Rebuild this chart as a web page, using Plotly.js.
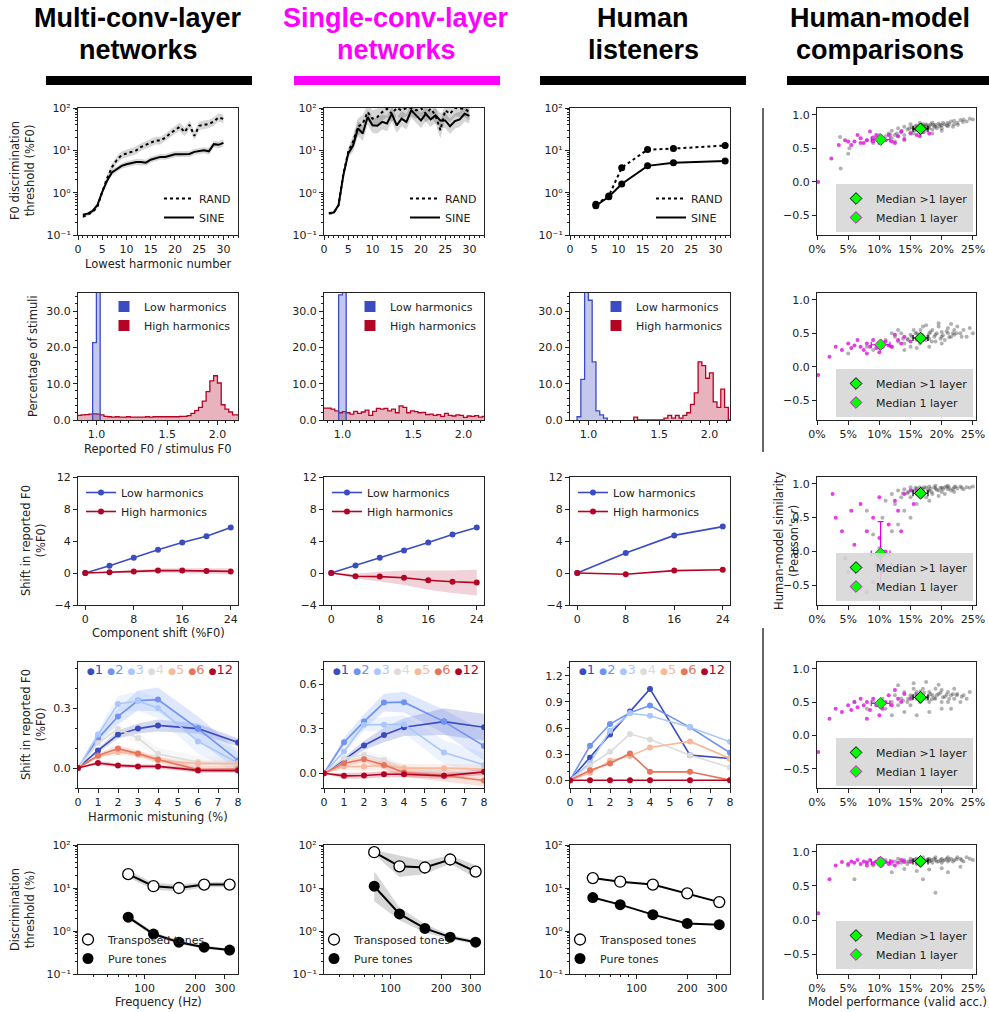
<!DOCTYPE html>
<html><head><meta charset="utf-8">
<script src="https://cdn.plot.ly/plotly-3.0.1.min.js"></script>
<style>body{margin:0;background:#fff}#chart{width:989px;height:1012px}</style>
</head><body><div id="chart"></div><script>
// ---------------- DATA ----------------
const headers = [["Multi-conv-layer","networks"],["Single-conv-layer","networks"],["Human","listeners"],["Human-model","comparisons"]];
// Row 1: F0 discrimination vs lowest harmonic number
const harm = [1,2,3,4,5,6,7,8,9,10,11,12,13,14,15,16,17,18,19,20,21,22,23,24,25,26,27,28,29,30];
const mcSine = [0.30,0.32,0.37,0.51,1.05,1.9,3.0,3.6,4.3,4.7,5.0,5.3,5.3,5.1,6.0,6.4,7.0,7.0,7.4,8.1,8.1,8.2,8.2,9.2,9.7,10.0,9.5,14,13.5,15];
const mcRand = [0.27,0.30,0.35,0.46,1.05,2.2,4.0,5.9,7.7,8.5,9.2,10,12,13.5,15,17,17,20,25,30,36,27,40,22,38,40,42,48,60,55];
const mcSineErr = [0.03,0.03,0.03,0.04,0.05,0.06,0.07,0.07,0.07,0.07,0.07,0.07,0.07,0.07,0.07,0.07,0.07,0.07,0.07,0.07,0.07,0.07,0.07,0.07,0.07,0.07,0.08,0.08,0.08,0.08];
const mcRandErr = [0.03,0.03,0.03,0.04,0.05,0.07,0.08,0.09,0.09,0.09,0.09,0.09,0.09,0.09,0.09,0.09,0.09,0.09,0.09,0.09,0.1,0.1,0.1,0.1,0.1,0.1,0.1,0.1,0.1,0.1];
const scSine = [0.33,0.34,0.51,2.6,8.4,13,33,25,61,39,38,47,43,73,39,56,47,88,67,51,73,54,67,51,51,37,49,54,73,65];
const scRand = [0.32,0.33,0.51,2.8,9.2,16,36,43,80,56,61,80,96,73,100,88,100,100,88,100,73,96,67,30,88,73,100,100,96,80];
const scSineErr = [0.02,0.02,0.03,0.08,0.1,0.15,0.18,0.18,0.18,0.18,0.18,0.18,0.18,0.18,0.18,0.18,0.18,0.18,0.18,0.18,0.18,0.18,0.18,0.18,0.18,0.18,0.18,0.18,0.18,0.18];
const scRandErr = [0.02,0.02,0.03,0.08,0.1,0.15,0.2,0.2,0.2,0.2,0.2,0.2,0.2,0.2,0.2,0.2,0.2,0.2,0.2,0.2,0.2,0.2,0.2,0.2,0.2,0.2,0.2,0.2,0.2,0.2];
const hlHarm = [5.33,8,10.67,16,21.33,32];
const hlSine = [0.49,0.8,1.6,4.3,5.1,5.6];
const hlRand = [0.53,0.83,3.9,10.4,11,13];
const logTickVals = [0.1,1,10,100];
const logTickText = ['10⁻¹','10⁰','10¹','10²'];
// Row 2: histograms, bins of 1/32 octave, bin k spans [2^(k/32), 2^((k+1)/32)]
const mcLowK0 = -1, mcLow = [21.3,75];
const mcHighK0 = -6, mcHigh = [1.3,1.3,1.4,1.5,1.6,1.7,1.6,1.4,1.0,0.9,0.8,0.9,0.8,0.8,0.9,0.8,0.8,0.8,0.8,0.9,0.8,0.9,0.9,0.9,0.9,0.9,0.9,0.9,1.0,1.0,1.2,1.8,2.6,3.5,5.2,7.8,10.8,12.2,10.2,4.2,3.0,2.2,1.4,1.4];
const scLowK0 = -1, scLow = [34.5,60];
const scHighK0 = -6, scHigh = [3.3,3.3,3.3,3.0,2.5,2.0,2.3,2.0,1.6,2.4,1.8,2.2,2.7,1.3,2.4,3.2,3.0,3.2,2.5,3.0,2.0,3.9,3.5,2.0,2.5,2.3,2.0,2.1,1.5,1.6,1.3,1.5,1.0,1.8,1.3,1.1,1.4,1.3,0.7,1.1,1.0,1.2,0.8,1.0];
const hlLowK0 = -3, hlLow = [0.9,11.2,37,33,16,2.5,1.4,0.5];
const hlHighK0 = 12, hlHigh = [0.8,0,0,0,0,0,0,0,0.5,1.3,0.5,1.3,0.5,1.3,2.0,4.3,7.5,16,15,11.5,13,5,3.5,8.5,3.5,0];
const histTickVals = [1,1.5,2], histTickText = ['1.0','1.5','2.0'];
// Row 3: frequency-shifted complexes
const shiftX = [0,4,8,12,16,20,24];
const mcShiftLow = [0,0.9,1.9,2.9,3.8,4.6,5.7];
const mcShiftHigh = [0,0.1,0.2,0.3,0.3,0.25,0.2];
const mcShiftHighErr = [0,0.1,0.2,0.25,0.3,0.35,0.4];
const scShiftLow = [0,0.95,1.9,2.8,3.8,4.8,5.7];
const scShiftHigh = [0,-0.4,-0.45,-0.6,-0.9,-1.1,-1.2];
const scShiftHighErr = [0,0.3,0.6,0.9,1.2,1.4,1.6];
const hlShiftX = [0,8,16,24];
const hlShiftLow = [0,2.5,4.7,5.8];
const hlShiftHigh = [0,-0.15,0.3,0.4];
// Row 4: mistuned harmonics
const mistX = [0,1,2,3,4,6,8];
const mistLabels = ['1','2','3','4','5','6','12'];
const mistColors = ['#3b4cc0','#6f92f3','#aac7fd','#dddcdc','#f7b89c','#e7745b','#b40426'];
const mcMist = [
 [0,0.088,0.167,0.197,0.213,0.197,0.128],
 [0,0.147,0.258,0.337,0.342,0.197,0.038],
 [0,0.167,0.32,0.335,0.30,0.133,0.025],
 [0,0.125,0.195,0.15,0.07,0.03,0.017],
 [0,0.058,0.08,0.067,0.038,0.022,0.022],
 [0,0.062,0.097,0.072,0.042,-0.008,-0.005],
 [0,0.025,0.013,0.008,0.008,-0.012,-0.013]];
const mcMistErr = [
 [0,0.01,0.02,0.025,0.03,0.025,0.02],
 [0,0.02,0.04,0.05,0.06,0.06,0.05],
 [0,0.02,0.04,0.05,0.05,0.06,0.05],
 [0,0.01,0.02,0.03,0.03,0.03,0.03],
 [0,0.01,0.015,0.015,0.015,0.015,0.015],
 [0,0.01,0.015,0.015,0.015,0.015,0.015],
 [0,0.01,0.01,0.01,0.01,0.01,0.01]];
const scMist = [
 [0,0.09,0.187,0.258,0.31,0.348,0.31],
 [0,0.209,0.348,0.476,0.479,0.348,0.184],
 [0,0.146,0.326,0.326,0.33,0.14,0.056],
 [0,0.10,0.124,0.09,0.034,0.011,0.01],
 [0,0.045,0.045,0.052,0.034,0.034,0.027],
 [0,0.067,0.094,0.056,0.004,-0.016,-0.049],
 [0,-0.018,-0.016,-0.007,-0.007,-0.018,0.009]];
const scMistErr = [
 [0,0.02,0.03,0.05,0.06,0.09,0.09],
 [0,0.03,0.05,0.06,0.07,0.08,0.1],
 [0,0.02,0.04,0.05,0.06,0.08,0.08],
 [0,0.02,0.03,0.03,0.02,0.02,0.02],
 [0,0.02,0.03,0.03,0.03,0.03,0.03],
 [0,0.02,0.02,0.03,0.03,0.04,0.04],
 [0,0.02,0.02,0.02,0.02,0.02,0.02]];
const hlMist = [
 [0,0.258,0.527,0.789,1.05,0.288,0.25],
 [0,0.396,0.646,0.777,0.858,0.608,0.315],
 [0,0.2,0.569,0.77,0.742,0.608,0.442],
 [0,0.173,0.327,0.531,0.469,0.288,0.146],
 [0,0.085,0.223,0.277,0.377,0.446,0.25],
 [0,0.115,0.192,0.308,0.096,0.096,0],
 [0,0,0,0,0,0,0]];
// Row 5: transposed tones vs pure tones
const freqModel = [80,113,160,226,320];
const mcTrans = [21,11,10,12,12];
const mcPure = [2.1,0.85,0.55,0.42,0.36];
const mcTransErr = [0.08,0.08,0.08,0.06,0.06];
const mcPureErr = [0.05,0.05,0.04,0.04,0.03];
const scTrans = [68,32,30,46,24];
const scPure = [11,2.5,1.15,0.72,0.55];
const scTransErr = [0.05,0.25,0.15,0.1,0.15];
const scPureErr = [0.35,0.15,0.1,0.05,0.05];
const freqHuman = [55,80,125,200,310];
const hlTrans = [17,14,12,7.5,4.7];
const hlPure = [6,4.1,2.4,1.5,1.4];
// Column 4: human-model similarity (x: model performance %, y: Pearson r)
const cmpXTicks = [0,5,10,15,20,25], cmpXText = ['0%','5%','10%','15%','20%','25%'];
const cmpYTicks = [-0.5,0,0.5,1], cmpYText = ['−0.5','0.0','0.5','1.0'];
const cmpGray = [
 [[3.7,0.67],[3.8,0.2],[5,0.42],[5.2,0.5],[8,0.62],[9,0.58],[9.5,0.66],[10,0.7],[10.5,0.62],[11,0.68],[11.5,0.72],[12,0.65],[12,0.76],[12.5,0.7],[13,0.8],[13,0.68],[13.5,0.74],[14,0.82],[14,0.7],[14.5,0.78],[15,0.86],[15,0.74],[15.5,0.8],[15.5,0.72],[16,0.84],[16,0.77],[16.5,0.88],[16.5,0.75],[17,0.82],[17,0.79],[17.5,0.86],[17.5,0.76],[18,0.84],[18,0.8],[18.5,0.88],[18.5,0.78],[19,0.85],[19,0.82],[19.5,0.87],[20,0.84],[20,0.8],[20.5,0.86],[21,0.88],[21,0.83],[21.5,0.9],[22,0.86],[22,0.91],[22.5,0.88],[23,0.92],[23.5,0.93],[24,0.9],[24.5,0.94],[25,0.93],[20,0.76],[18.5,0.72],[14,0.62],[12.5,0.6],[16.5,0.82],[17.5,0.84],[17,0.86]],
 [[5,0.2],[8,0.3],[9,0.25],[10,0.35],[10.5,0.3],[11,0.4],[12,0.3],[12.5,0.45],[13,0.38],[13.5,0.5],[14,0.35],[14.5,0.42],[15,0.48],[15,0.3],[15.5,0.55],[16,0.4],[16,0.5],[16.5,0.35],[17,0.45],[17,0.6],[17.5,0.4],[18,0.5],[18,0.42],[18.5,0.55],[19,0.38],[19,0.48],[19.5,0.6],[20,0.45],[20,0.52],[20.5,0.4],[21,0.5],[21,0.58],[21.5,0.45],[22,0.55],[22,0.48],[22.5,0.6],[23,0.5],[23.5,0.55],[24,0.45],[24.5,0.58],[25,0.5],[14,0.25],[16,0.28],[18,0.3],[20,0.35],[12,0.5],[13,0.55],[17.5,0.62],[19.5,0.65],[21.5,0.64]],
 [[8,0.6],[9,0.25],[10,0.05],[10.5,0.5],[11,0.75],[12,0.85],[12.5,0.7],[13,0.9],[13.5,0.8],[14,0.92],[14.5,0.86],[15,0.95],[15,0.8],[15.5,0.9],[16,0.93],[16,0.85],[16.5,0.95],[17,0.88],[17,0.92],[17.5,0.94],[18,0.9],[18,0.96],[18.5,0.85],[19,0.93],[19,0.97],[19.5,0.9],[20,0.94],[20,0.88],[20.5,0.95],[21,0.92],[21,0.97],[21.5,0.9],[22,0.95],[22.5,0.93],[23,0.96],[23.5,0.92],[24,0.95],[24.5,0.94],[25,0.96],[14,0.6],[16,0.7],[18,0.75],[13,0.4],[12,0.3],[15,0.5],[17.5,0.8],[19.5,0.82],[20.5,0.85],[22,0.88]],
 [[6,0.5],[8,0.4],[9,0.5],[10,0.45],[10.5,0.55],[11,0.4],[12,0.5],[12.5,0.6],[13,0.45],[13.5,0.55],[14,0.65],[14.5,0.5],[15,0.6],[15,0.45],[15.5,0.7],[16,0.55],[16,0.65],[16.5,0.5],[17,0.6],[17,0.7],[17.5,0.55],[18,0.65],[18,0.5],[18.5,0.6],[19,0.7],[19,0.55],[19.5,0.62],[20,0.5],[20,0.68],[20.5,0.58],[21,0.65],[21,0.5],[21.5,0.6],[22,0.55],[22,0.7],[22.5,0.62],[23,0.5],[23.5,0.6],[24,0.55],[24.5,0.65],[14,0.35],[16,0.3],[18,0.35],[20,0.4],[13,0.75],[15.5,0.78],[17.5,0.8],[19.5,0.76],[12,0.3],[21.5,0.4]],
 [[5,0.8],[6,0.6],[8,0.85],[9,0.8],[10,0.85],[10.5,0.8],[11,0.88],[12,0.82],[12.5,0.86],[13,0.9],[13.5,0.84],[14,0.88],[14.5,0.82],[15,0.9],[15,0.85],[15.5,0.88],[16,0.82],[16,0.9],[16.5,0.86],[17,0.92],[17,0.84],[17.5,0.88],[18,0.86],[18,0.9],[18.5,0.84],[19,0.88],[19,0.92],[19.5,0.86],[20,0.9],[20,0.84],[20.5,0.88],[21,0.92],[21,0.86],[21.5,0.9],[22,0.88],[22.5,0.92],[23,0.9],[23.5,0.86],[24,0.92],[24.5,0.9],[25,0.88],[14,0.75],[16,0.72],[18,0.74],[20,0.76],[12,0.7],[17,0.6],[19,0.4],[21,0.7],[23,0.78]]
];
const cmpGrayCore = [
 [[15.2,0.81],[15.8,0.83],[16.2,0.8],[16.8,0.85],[17.2,0.83],[17.8,0.81],[18.2,0.86],[18.8,0.83],[19.2,0.8],[19.8,0.85],[20.2,0.88],[20.8,0.84],[21.2,0.86],[21.8,0.82],[14.8,0.8],[16.3,0.79],[17.6,0.8],[18.6,0.85],[19.6,0.83],[15.6,0.77],[13.6,0.76],[12.8,0.72],[11.8,0.7],[22.6,0.85],[23.4,0.89]],
 [[15.2,0.45],[15.8,0.5],[16.2,0.44],[16.8,0.48],[17.2,0.42],[17.8,0.46],[18.2,0.52],[18.8,0.45],[19.2,0.5],[19.8,0.42],[20.2,0.47],[20.8,0.53],[21.2,0.44],[21.8,0.5],[14.6,0.4],[13.8,0.42],[16.6,0.55],[18.4,0.38],[22.4,0.5],[23.2,0.45]],
 [[15.2,0.9],[15.8,0.94],[16.2,0.89],[16.8,0.93],[17.2,0.95],[17.8,0.9],[18.2,0.93],[18.8,0.95],[19.2,0.91],[19.8,0.94],[20.2,0.92],[20.8,0.96],[21.2,0.94],[21.8,0.92],[22.2,0.96],[14.6,0.88],[13.8,0.86],[16.6,0.87],[18.4,0.88],[23.2,0.94]],
 [[15.2,0.58],[15.8,0.62],[16.2,0.57],[16.8,0.6],[17.2,0.64],[17.8,0.58],[18.2,0.62],[18.8,0.56],[19.2,0.6],[19.8,0.64],[20.2,0.57],[20.8,0.61],[21.2,0.55],[21.8,0.62],[14.6,0.55],[13.8,0.52],[16.6,0.66],[18.4,0.54],[22.4,0.6],[23.2,0.58]],
 [[15.2,0.87],[15.8,0.89],[16.2,0.86],[16.8,0.88],[17.2,0.87],[17.8,0.89],[18.2,0.87],[18.8,0.9],[19.2,0.86],[19.8,0.88],[20.2,0.87],[20.8,0.9],[21.2,0.88],[21.8,0.86],[14.6,0.86],[13.8,0.87],[16.6,0.9],[18.4,0.88],[22.4,0.89],[23.2,0.88]]
];
const cmpMag = [
 [[0.2,0.0],[2.3,0.35],[3.5,0.55],[4.5,0.62],[5,0.6],[5.5,0.55],[6,0.6],[6.5,0.7],[7,0.65],[7.5,0.58],[8,0.62],[8.5,0.75],[9,0.6],[9.5,0.7],[10,0.58],[10.5,0.66],[11,0.62],[11.5,0.7],[12,0.6],[13,0.68],[13.5,0.75],[14,0.64],[15,0.72],[16,0.7],[17,0.74],[18,0.72],[16.5,0.68],[12.5,0.58],[9,0.66],[7,0.58]],
 [[0.2,-0.12],[2,0.15],[3,0.3],[4,0.25],[5,0.35],[5.5,0.28],[6,0.32],[6.5,0.4],[7,0.3],[7.5,0.25],[8,0.35],[8.5,0.3],[9,0.4],[9.5,0.28],[10,0.35],[10.5,0.3],[11,0.38],[11.5,0.32],[12,0.3],[13,0.4],[13.5,0.35],[14,0.45],[15,0.38],[16,0.42],[17,0.4],[12.5,0.48],[8,0.2],[10,0.22]],
 [[2.5,0.85],[3,0.5],[4,0.3],[5,-0.3],[6,-0.5],[7,-0.55],[8,-0.6],[9,-0.45],[10,0.2],[11,0.0],[12,-0.2],[13,0.6],[14,0.85],[15,0.9],[16,0.9],[9,0.5],[7,0.7],[6,0.1],[8,0.3],[10.5,-0.3],[11.5,0.4],[12.5,0.75],[13.5,0.3],[5.5,0.6],[4.5,-0.1],[9.5,-0.2],[10,0.8],[15.5,0.7]],
 [[0.2,-0.25],[2,0.25],[3,0.4],[4,0.35],[5,0.45],[5.5,0.38],[6,0.5],[6.5,0.42],[7,0.55],[7.5,0.45],[8,0.5],[8.5,0.38],[9,0.55],[9.5,0.45],[10,0.52],[10.5,0.4],[11,0.5],[11.5,0.6],[12,0.45],[13,0.55],[13.5,0.5],[14,0.62],[15,0.55],[16,0.6],[17,0.58],[12.5,0.68],[8,0.25],[10,0.3]],
 [[0.2,0.1],[2,0.6],[3,0.8],[4,0.85],[5,0.82],[5.5,0.86],[6,0.84],[6.5,0.88],[7,0.82],[7.5,0.86],[8,0.84],[8.5,0.88],[9,0.82],[9.5,0.86],[10,0.84],[10.5,0.88],[11,0.85],[11.5,0.82],[12,0.86],[13,0.84],[13.5,0.88],[14,0.85],[15,0.86],[16,0.84],[17,0.88],[12.5,0.8],[8,0.8],[10,0.9]]
];
const medMulti = [[16.6,0.79],[16.6,0.43],[16.6,0.86],[16.6,0.57],[16.6,0.86]];
const medSingle = [[10.2,0.63],[10.2,0.33],[10.2,-0.03],[10.2,0.48],[10.2,0.85]];
const medSingleYErr = [0.03,0.04,0.47,0.04,0.02];

// ---------------- LAYOUT ----------------
const W=989,H=1012;
const colX=[[78,238],[324,484],[570,730],[817,976]];
const rowY=[[108,235],[293,420],[477,605],[662,788],[845,974]];
const TF={family:'DejaVu Sans',size:11,color:'#222'};
const layout={width:W,height:H,margin:{l:0,r:0,t:0,b:0},paper_bgcolor:'#fff',plot_bgcolor:'rgba(0,0,0,0)',
  font:{family:'DejaVu Sans',size:11,color:'#222'},showlegend:true,annotations:[],shapes:[]};
const traces=[];
function id(r,c){const i=r*4+c+1;return i===1?'':String(i);}
const MINOR={ticks:'outside',ticklen:2,tickcolor:'#222',tickwidth:1,showgrid:false};
function setAxes(r,c,xo,yo){
  const i=id(r,c);
  const base={showline:true,mirror:true,linecolor:'#222',linewidth:1,ticks:'outside',ticklen:4,tickwidth:1,tickcolor:'#222',
    showgrid:false,zeroline:false,tickfont:TF,fixedrange:true,layer:'above traces'};
  layout['xaxis'+i]=Object.assign({},base,{domain:[colX[c][0]/W,colX[c][1]/W],anchor:'y'+i},xo);
  layout['yaxis'+i]=Object.assign({},base,{domain:[1-rowY[r][1]/H,1-rowY[r][0]/H],anchor:'x'+i},yo);
}
let legN=0;
function addLegend(px,py,xa,ya,extra){legN++;const key=legN===1?'legend':'legend'+legN;
  layout[key]=Object.assign({x:px/W,y:1-py/H,xanchor:xa,yanchor:ya,xref:'paper',yref:'paper',bgcolor:'rgba(0,0,0,0)',
  font:{family:'DejaVu Sans',size:11,color:'#222'},tracegroupgap:0,itemwidth:30},extra||{});return key;}
function ax(r,c){const i=id(r,c);return {xaxis:'x'+i,yaxis:'y'+i};}
function bandTrace(xs,up,lo,r,c,color){return Object.assign({x:xs.concat(xs.slice().reverse()),y:up.concat(lo.slice().reverse()),
  fill:'toself',fillcolor:color,line:{width:0},mode:'lines',hoverinfo:'skip',showlegend:false},ax(r,c));}
function logBand(xs,v,e,r,c,color){return bandTrace(xs,v.map((y,i)=>y*Math.pow(10,e[i])),v.map((y,i)=>y/Math.pow(10,e[i])),r,c,color);}
function linBand(xs,v,e,r,c,color){return bandTrace(xs,v.map((y,i)=>y+e[i]),v.map((y,i)=>y-e[i]),r,c,color);}
function hexA(h,a){const n=parseInt(h.slice(1),16);return `rgba(${n>>16},${(n>>8)&255},${n&255},${a})`;}
function dummy(r,c,name,extra){return Object.assign({x:[null],y:[null],name:name},extra,ax(r,c));}

// ---- Row 1
const logY={type:'log',range:[-1,2],tickvals:logTickVals,ticktext:logTickText,minor:Object.assign({dtick:'D1'},MINOR)};
const harmXAx={range:[0,33],tickvals:[0,5,10,15,20,25,30],minor:Object.assign({dtick:1},MINOR)};
for(let c=0;c<3;c++) setAxes(0,c,harmXAx,logY);
const BAND='rgba(0,0,0,0.16)';
[[mcSine,mcRand,mcSineErr,mcRandErr],[scSine,scRand,scSineErr,scRandErr]].forEach((d,c)=>{
  traces.push(logBand(harm,d[1],d[3],0,c,BAND));
  traces.push(logBand(harm,d[0],d[2],0,c,BAND));
  const lg=addLegend(colX[c][1]-2,232,'right','bottom');
  traces.push(Object.assign({x:harm,y:d[1],mode:'lines',name:'RAND',line:{color:'#000',width:2,dash:'dot'},legend:lg},ax(0,c)));
  traces.push(Object.assign({x:harm,y:d[0],mode:'lines',name:'SINE',line:{color:'#000',width:2},legend:lg},ax(0,c)));
});
{const lg=addLegend(colX[2][1]-2,232,'right','bottom');
 traces.push(Object.assign({x:hlHarm,y:hlRand,mode:'lines+markers',line:{color:'#000',width:2,dash:'dot'},marker:{size:7,color:'#000'},showlegend:false},ax(0,2)));
 traces.push(Object.assign({x:hlHarm,y:hlSine,mode:'lines+markers',line:{color:'#000',width:2},marker:{size:7,color:'#000'},showlegend:false},ax(0,2)));
 traces.push(dummy(0,2,'RAND',{mode:'lines',line:{color:'#000',width:2,dash:'dot'},legend:lg}));
 traces.push(dummy(0,2,'SINE',{mode:'lines',line:{color:'#000',width:2},legend:lg}));}

// ---- Row 2
const BLUE='#3b4cc0', RED='#b40426';
const histX={type:'log',range:[Math.log10(0.9),Math.log10(2.25)],tickvals:histTickVals,ticktext:histTickText,
  minor:Object.assign({tickvals:[0.92,0.95,1.05,1.1,1.15,1.2,1.3,1.4,1.6,1.7,1.8,1.9,2.1,2.2]},MINOR)};
const histY={range:[0,35],tickvals:[0,10,20,30],tickformat:'.1f',minor:Object.assign({dtick:2},MINOR)};
for(let c=0;c<3;c++) setAxes(1,c,histX,histY);
function histTrace(k0,vals,color,r,c){const xs=[],ys=[];
  xs.push(Math.pow(2,k0/32));ys.push(0);
  vals.forEach((v,i)=>{xs.push(Math.pow(2,(k0+i)/32));ys.push(v);});
  const e=Math.pow(2,(k0+vals.length)/32);xs.push(e);ys.push(vals[vals.length-1]);xs.push(e);ys.push(0);
  return Object.assign({x:xs,y:ys,mode:'lines',line:{shape:'hv',color:color,width:1.3},fill:'tozeroy',fillcolor:hexA(color,0.3),showlegend:false,hoverinfo:'skip'},ax(r,c));}
[[mcLowK0,mcLow,mcHighK0,mcHigh],[scLowK0,scLow,scHighK0,scHigh],[hlLowK0,hlLow,hlHighK0,hlHigh]].forEach((d,c)=>{
  traces.push(histTrace(d[2],d[3],RED,1,c));
  traces.push(histTrace(d[0],d[1],BLUE,1,c));
  const lg=addLegend(colX[c][1]-2,292,'right','top');
  traces.push(dummy(1,c,'Low harmonics',{mode:'markers',marker:{symbol:'square',size:11,color:BLUE},legend:lg}));
  traces.push(dummy(1,c,'High harmonics',{mode:'markers',marker:{symbol:'square',size:11,color:RED},legend:lg}));
});

// ---- Row 3
const shiftXAx={range:[-1.2,25.2],tickvals:[0,8,16,24]};
const shiftYAx={range:[-4,12],tickvals:[-4,0,4,8,12]};
for(let c=0;c<3;c++) setAxes(2,c,shiftXAx,shiftYAx);
[[shiftX,mcShiftLow,mcShiftHigh,mcShiftHighErr],[shiftX,scShiftLow,scShiftHigh,scShiftHighErr],[hlShiftX,hlShiftLow,hlShiftHigh,null]].forEach((d,c)=>{
  if(d[3]) traces.push(linBand(d[0],d[2],d[3],2,c,hexA(RED,0.18)));
  const lg=addLegend(colX[c][0]+3,478,'left','top');
  traces.push(Object.assign({x:d[0],y:d[1],mode:'lines+markers',name:'Low harmonics',line:{color:BLUE,width:1.6},marker:{size:6,color:BLUE},legend:lg},ax(2,c)));
  traces.push(Object.assign({x:d[0],y:d[2],mode:'lines+markers',name:'High harmonics',line:{color:RED,width:1.6},marker:{size:6,color:RED},legend:lg},ax(2,c)));
});

// ---- Row 4
const mistXAx={range:[0,8],dtick:1};
setAxes(3,0,mistXAx,{range:[-0.1,0.53],tickvals:[0,0.3],tickformat:'.1f',minor:Object.assign({dtick:0.1},MINOR)});
setAxes(3,1,mistXAx,{range:[-0.1,0.75],tickvals:[0,0.3,0.6],tickformat:'.1f',minor:Object.assign({dtick:0.1},MINOR)});
setAxes(3,2,mistXAx,{range:[-0.09,1.36],tickvals:[0,0.3,0.6,0.9,1.2],tickformat:'.1f',minor:Object.assign({dtick:0.1},MINOR)});
[[mcMist,mcMistErr],[scMist,scMistErr],[hlMist,null]].forEach((d,c)=>{
  if(d[1]) for(let h=0;h<7;h++) traces.push(linBand(mistX,d[0][h],d[1][h],3,c,hexA(mistColors[h],0.22)));
  for(let h=0;h<7;h++) traces.push(Object.assign({x:mistX,y:d[0][h],mode:'lines+markers',line:{color:mistColors[h],width:1.6},
    marker:{size:6,color:mistColors[h]},showlegend:false},ax(3,c)));
  const txt=mistLabels.map((l,h)=>`<span style="color:${mistColors[h]};font-size:9px">●</span><span style="color:${mistColors[h]}">${l}</span>`).join(' ');
  layout.annotations.push({xref:'paper',yref:'paper',x:((colX[c][0]+colX[c][1])/2+2)/W,y:1-669/H,text:txt,showarrow:false,
    xanchor:'center',yanchor:'middle',font:{family:'DejaVu Sans',size:13}});
});

// ---- Row 5
const freqXAx={type:'log',range:[1.605,2.555],tickvals:[100,200,300],ticktext:['100','200','300'],minor:Object.assign({dtick:'D1'},MINOR)};
for(let c=0;c<3;c++) setAxes(4,c,freqXAx,logY);
[[freqModel,mcTrans,mcPure,mcTransErr,mcPureErr],[freqModel,scTrans,scPure,scTransErr,scPureErr],[freqHuman,hlTrans,hlPure,null,null]].forEach((d,c)=>{
  if(d[3]){traces.push(logBand(d[0],d[1],d[3],4,c,BAND));traces.push(logBand(d[0],d[2],d[4],4,c,BAND));}
  traces.push(Object.assign({x:d[0],y:d[1],mode:'lines+markers',line:{color:'#000',width:2},marker:{size:11,color:'#fff',line:{color:'#000',width:1.3}},showlegend:false},ax(4,c)));
  traces.push(Object.assign({x:d[0],y:d[2],mode:'lines+markers',line:{color:'#000',width:2},marker:{size:11,color:'#000'},showlegend:false},ax(4,c)));
  const lg=addLegend(colX[c][0]-10,973,'left','bottom');
  traces.push(dummy(4,c,'Transposed tones',{mode:'markers',marker:{size:11,color:'#fff',line:{color:'#000',width:1.3}},legend:lg}));
  traces.push(dummy(4,c,'Pure tones',{mode:'markers',marker:{size:11,color:'#000'},legend:lg}));
});

// ---- Column 4
for(let r=0;r<5;r++){
  setAxes(r,3,{range:[0,25.5],tickvals:cmpXTicks,ticktext:cmpXText},
    {range:[-0.79,1.1],tickvals:cmpYTicks,ticktext:cmpYText});
  const g=cmpGray[r].concat(cmpGrayCore[r]);
  traces.push(Object.assign({x:g.map(p=>p[0]),y:g.map(p=>p[1]),mode:'markers',marker:{size:4,color:'rgba(60,60,60,0.4)'},showlegend:false,hoverinfo:'skip'},ax(r,3)));
  traces.push(Object.assign({x:cmpMag[r].map(p=>p[0]),y:cmpMag[r].map(p=>p[1]),mode:'markers',marker:{size:4,color:'rgba(225,30,225,0.85)'},showlegend:false,hoverinfo:'skip'},ax(r,3)));
  const lg=addLegend(973,rowY[r][0]+124,'right','bottom',{bgcolor:'rgba(215,215,215,0.9)'});
  traces.push(Object.assign({x:[medMulti[r][0]],y:[medMulti[r][1]],mode:'markers',name:'Median >1 layer',
    error_x:{type:'data',array:[1.2],color:'#000',thickness:1.2,width:3},error_y:{type:'data',array:[0.02],color:'#000',thickness:1.2,width:3},
    marker:{symbol:'diamond',size:9,color:'#00ff00',line:{color:'#000',width:1}},legend:lg},ax(r,3)));
  traces.push(Object.assign({x:[medSingle[r][0]],y:[medSingle[r][1]],mode:'markers',name:'Median 1 layer',
    error_x:{type:'data',array:[1.5],color:'#e000e0',thickness:1.2,width:3},error_y:{type:'data',array:[medSingleYErr[r]],color:'#e000e0',thickness:1.2,width:3},
    marker:{symbol:'diamond',size:9,color:'#00ff00',line:{color:'#e000e0',width:1}},legend:lg},ax(r,3)));
}

// ---- Headers, bars, titles
const hx=[138,396,643,880];
headers.forEach((h,c)=>{
  const col=c===1?'#ff00ff':'#000';
  [18,50].forEach((yy,j)=>layout.annotations.push({xref:'paper',yref:'paper',x:hx[c]/W,y:1-yy/H,text:'<b>'+h[j]+'</b>',showarrow:false,
    xanchor:'center',yanchor:'middle',font:{family:'Liberation Sans',size:27,color:col}}));
});
[[46,252,'#000'],[294,500,'#ff00ff'],[540,746,'#000'],[787,989,'#000']].forEach(b=>layout.shapes.push({type:'rect',xref:'paper',yref:'paper',
  x0:b[0]/W,x1:b[1]/W,y0:1-85/H,y1:1-76/H,fillcolor:b[2],line:{width:0}}));
layout.shapes.push({type:'line',xref:'paper',yref:'paper',x0:763/W,x1:763/W,y0:1-108/H,y1:1-452/H,line:{color:'#333',width:1.5}});
layout.shapes.push({type:'line',xref:'paper',yref:'paper',x0:763/W,x1:763/W,y0:1-628/H,y1:1-1000/H,line:{color:'#333',width:1.5}});
function ytitle(x,y,t){layout.annotations.push({xref:'paper',yref:'paper',x:x/W,y:1-y/H,text:t,textangle:-90,showarrow:false,xanchor:'center',yanchor:'middle',font:{family:'DejaVu Sans',size:11.5,color:'#222'}});}
function xtitle(x,y,t){layout.annotations.push({xref:'paper',yref:'paper',x:x/W,y:1-y/H,text:t,showarrow:false,xanchor:'center',yanchor:'middle',font:{family:'DejaVu Sans',size:11.5,color:'#222'}});}
ytitle(22,171,'F0 discrimination<br>threshold (%F0)');
ytitle(33,356,'Percentage of stimuli');
ytitle(33,541,'Shift in reported F0<br>(%F0)');
ytitle(33,725,'Shift in reported F0<br>(%F0)');
ytitle(22,910,'Discrimination<br>threshold (%)');
ytitle(786,541,'Human-model similarity<br>(Pearson\'s <i>r</i>)');
xtitle(158,264,'Lowest harmonic number');
xtitle(158,449,'Reported F0 / stimulus F0');
xtitle(158,633,'Component shift (%F0)');
xtitle(158,817,'Harmonic mistuning (%)');
xtitle(158,1002,'Frequency (Hz)');
xtitle(897,1002,'Model performance (valid acc.)');

Plotly.newPlot('chart',traces,layout,{staticPlot:true,displayModeBar:false});
</script></body></html>
